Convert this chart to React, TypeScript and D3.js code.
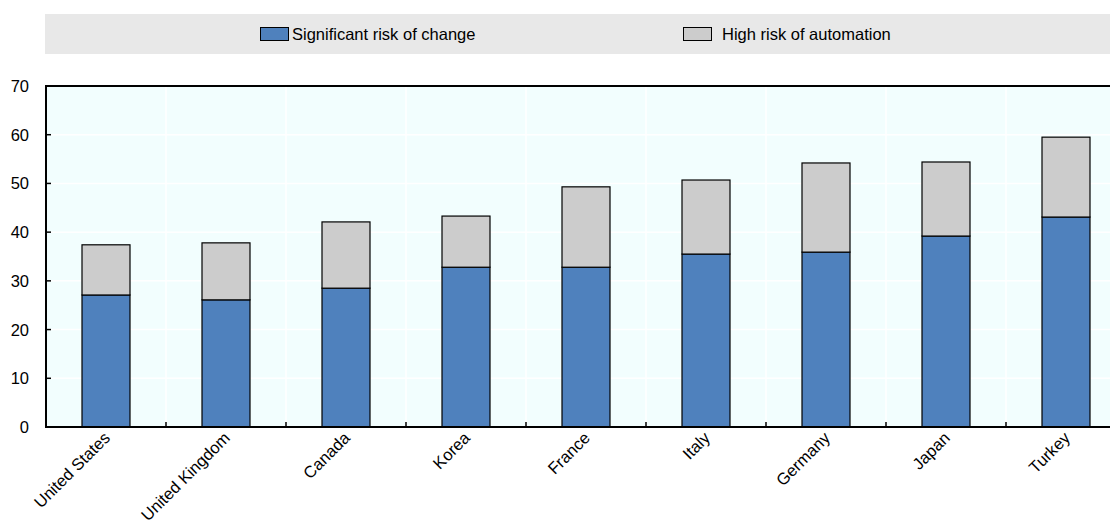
import React from "react";
import * as d3 from "d3";

const categories = ["United States", "United Kingdom", "Canada", "Korea", "France", "Italy", "Germany", "Japan", "Turkey"];
const significantRisk = [27.1, 26.1, 28.5, 32.8, 32.8, 35.5, 35.9, 39.2, 43.1];
const highRisk = [10.3, 11.7, 13.6, 10.5, 16.5, 15.2, 18.3, 15.2, 16.4];
const yTicks = [0, 10, 20, 30, 40, 50, 60, 70];
const seriesNames = ["Significant risk of change", "High risk of automation"];
const seriesColors = ["#4f81bd", "#cccccc"];

const W = 1110;
const H = 522;
const left = 46;
const right = 1126;
const top = 86;
const bottom = 427;
const font = "'Liberation Sans', Arial, sans-serif";
const fs = 16.5;

export default function App() {
  const x = d3.scaleBand<string>().domain(categories).range([left, right]).paddingInner(0).paddingOuter(0);
  const y = d3.scaleLinear().domain([0, 70]).range([bottom, top]);
  const bw = 48;
  const stacked = categories.map((c, i) => ({ c, s: significantRisk[i], h: highRisk[i] }));
  const boundaries = categories.slice(1).map((c) => x(c) as number);

  return (
    <svg width={W} height={H} style={{ position: "absolute", left: 0, top: 0, display: "block" }} fontFamily={font}>
      {/* legend */}
      <rect x={45} y={14} width={1065} height={40} fill="#e8e8e8" />
      <rect x={260.5} y={27.5} width={28} height={13} fill={seriesColors[0]} stroke="#000" strokeWidth={1} />
      <text x={292} y={40} fontSize={fs} fill="#000">{seriesNames[0]}</text>
      <rect x={683.5} y={27.5} width={28} height={13} fill={seriesColors[1]} stroke="#000" strokeWidth={1} />
      <text x={722} y={40} fontSize={fs} fill="#000">{seriesNames[1]}</text>

      {/* plot background */}
      <rect x={left} y={top} width={W - left} height={bottom - top} fill="#f2fefe" />
      {yTicks.slice(1, -1).map((t) => (
        <line key={"g" + t} x1={left} x2={W} y1={y(t)} y2={y(t)} stroke="#ffffff" strokeWidth={1.5} />
      ))}
      {boundaries.map((b, i) => (
        <line key={"v" + i} x1={b} x2={b} y1={top} y2={bottom} stroke="#ffffff" strokeWidth={1.5} />
      ))}

      {/* bars */}
      {stacked.map((d) => {
        const cx = (x(d.c) as number) + x.bandwidth() / 2;
        return (
          <g key={d.c}>
            <rect x={cx - bw / 2} y={y(d.s)} width={bw} height={y(0) - y(d.s)} fill={seriesColors[0]} stroke="#000" strokeWidth={1.2} />
            <rect x={cx - bw / 2} y={y(d.s + d.h)} width={bw} height={y(d.s) - y(d.s + d.h)} fill={seriesColors[1]} stroke="#000" strokeWidth={1.2} />
          </g>
        );
      })}

      {/* axes */}
      <line x1={left} x2={W} y1={top} y2={top} stroke="#000" strokeWidth={2} />
      <line x1={left} x2={left} y1={top - 1} y2={bottom + 1} stroke="#000" strokeWidth={2} />
      <line x1={left - 1} x2={W} y1={bottom} y2={bottom} stroke="#000" strokeWidth={2} />
      {yTicks.map((t) => (
        <g key={"t" + t}>
          <line x1={left} x2={left + 5} y1={y(t)} y2={y(t)} stroke="#000" strokeWidth={1.5} />
          <text x={29} y={y(t) + 6} fontSize={fs} textAnchor="end" fill="#000">{t}</text>
        </g>
      ))}
      {boundaries.map((b, i) => (
        <line key={"xt" + i} x1={b} x2={b} y1={bottom} y2={bottom - 5} stroke="#000" strokeWidth={1.5} />
      ))}
      {categories.map((c) => {
        const cx = (x(c) as number) + x.bandwidth() / 2;
        return (
          <text key={"l" + c} transform={`translate(${cx + 5},${bottom + 12}) rotate(-45)`} fontSize={fs} textAnchor="end" fill="#000">
            {c}
          </text>
        );
      })}
    </svg>
  );
}
